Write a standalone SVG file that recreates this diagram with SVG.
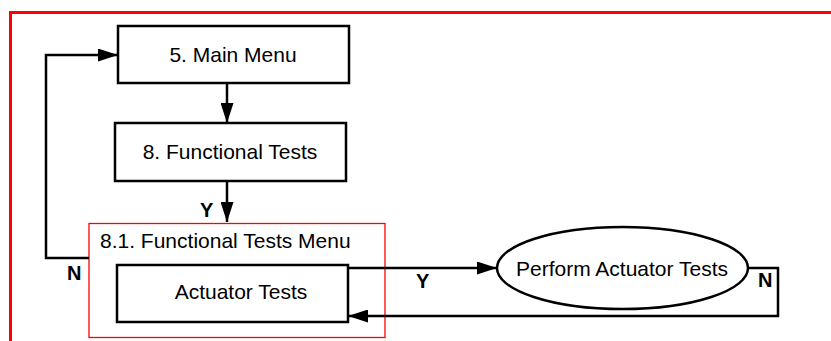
<svg xmlns="http://www.w3.org/2000/svg" width="831" height="341" viewBox="0 0 831 341">
<style>
.box{fill:#fff;stroke:#000;stroke-width:2.5}
.con{fill:none;stroke:#000;stroke-width:2.5}
.t{font-family:"Liberation Sans",Arial,sans-serif;font-size:21px;fill:#000}
.lbl{font-family:"Liberation Sans",Arial,sans-serif;font-size:20px;font-weight:bold;fill:#000}
</style>
<defs>
<marker id="ah" viewBox="0 0 20 13" refX="20" refY="6.5" markerWidth="20" markerHeight="13" markerUnits="userSpaceOnUse" orient="auto">
<path d="M0,0 L20,6.5 L0,13 Z" fill="#000"/>
</marker>
</defs>
<rect x="10.5" y="12.5" width="840" height="350" fill="none" stroke="#f00" stroke-width="3"/>
<g id="menu81">
<rect x="89" y="223.5" width="296" height="114" fill="none" stroke="#f00" stroke-width="1.3"/>
<text class="t" x="100" y="248">8.1. Functional Tests Menu</text>
</g>
<g id="connectors">
<path class="con" d="M227,83 V123" marker-end="url(#ah)"/>
<path class="con" d="M227,181 V222" marker-end="url(#ah)"/>
<path class="con" d="M89,258 H46 V55 H118" marker-end="url(#ah)"/>
<path class="con" d="M348,268 H497" marker-end="url(#ah)"/>
<path class="con" d="M748,268 H778 V316 H348" marker-end="url(#ah)"/>
<text class="lbl" x="200" y="217">Y</text>
<text class="lbl" x="67" y="280">N</text>
<text class="lbl" x="416" y="288">Y</text>
<text class="lbl" x="758" y="287">N</text>
</g>
<g id="mainMenu">
<rect class="box" x="118" y="26" width="231" height="57"/>
<text class="t" x="233" y="62" text-anchor="middle">5. Main Menu</text>
</g>
<g id="functionalTests">
<rect class="box" x="115" y="123" width="231" height="58"/>
<text class="t" x="230" y="159" text-anchor="middle">8. Functional Tests</text>
</g>
<g id="actuatorTests">
<rect class="box" x="117" y="265" width="231" height="57"/>
<text class="t" x="241" y="299" text-anchor="middle">Actuator Tests</text>
</g>
<g id="performActuatorTests">
<ellipse class="box" cx="622.5" cy="268" rx="125.5" ry="41"/>
<text class="t" x="622" y="276" text-anchor="middle">Perform Actuator Tests</text>
</g>
</svg>
